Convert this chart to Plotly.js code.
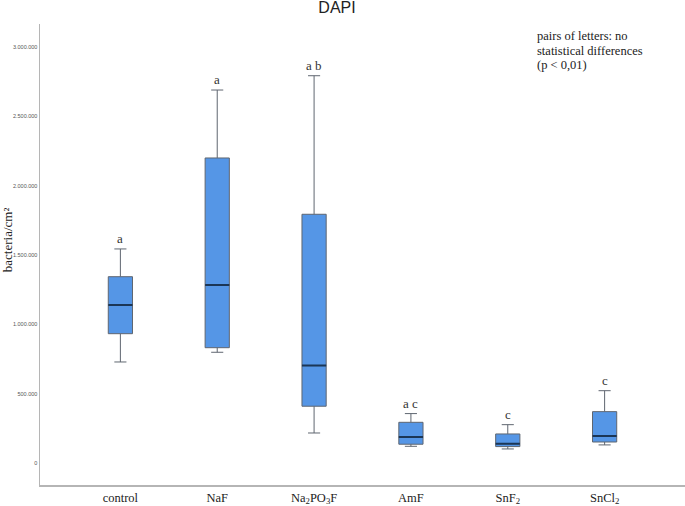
<!DOCTYPE html>
<html><head><meta charset="utf-8">
<script src="https://cdn.plot.ly/plotly-3.0.1.min.js"></script>
<style>html,body{margin:0;padding:0;background:#fff}</style>
</head><body><div id="chart" style="width:685px;height:506px"></div>
<script>
const categories = ['control','NaF','Na<sub>2</sub>PO<sub>3</sub>F','AmF','SnF<sub>2</sub>','SnCl<sub>2</sub>'];
const lowerFence = [728000, 798000, 216000, 120000, 101000, 130000];
const q1Values   = [932000, 831000, 409000, 135000, 118000, 151000];
const medians    = [1139000, 1283000, 702000, 187000, 139000, 195000];
const q3Values   = [1343000, 2199000, 1793000, 293000, 209000, 370000];
const upperFence = [1543000, 2689000, 2792000, 356000, 276000, 521000];
const groupLetters = ['a','a','a b','a c','c','c'];
const yTicks = [0, 500000, 1000000, 1500000, 2000000, 2500000, 3000000];
const noteLines = ['pairs of letters: no', 'statistical differences', '(p &lt; 0,01)'];

const serif = 'Liberation Serif, DejaVu Serif, serif';

const boxTrace = {
  type: 'box', x: categories, q1: q1Values, median: medians, q3: q3Values,
  lowerfence: lowerFence, upperfence: upperFence,
  fillcolor: '#5596e6', line: {color: '#5f6670', width: 1},
  width: 0.25, whiskerwidth: 0.5, hoverinfo: 'skip', showlegend: false
};
const medianTrace = {
  type: 'box', x: categories, q1: medians, median: medians, q3: medians,
  lowerfence: medians, upperfence: medians,
  fillcolor: 'rgba(0,0,0,0)', line: {color: '#1b3656', width: 2},
  width: 0.25, whiskerwidth: 0, hoverinfo: 'skip', showlegend: false
};

const letterAnnotations = categories.map((c, i) => ({
  x: c, y: upperFence[i], xref: 'x', yref: 'y', text: groupLetters[i],
  showarrow: false, yanchor: 'bottom', yshift: 1,
  font: {family: serif, size: 13, color: '#333'}
}));

const noteAnnotations = noteLines.map((t, i) => ({
  xref: 'paper', yref: 'paper', x: 0.767, y: 0.974 - i * 0.0315,
  xanchor: 'left', yanchor: 'middle', showarrow: false, text: t,
  font: {family: serif, size: 12.5, color: '#222'}
}));

const yTitle = {
  xref: 'paper', yref: 'paper', x: 0, xshift: -33, y: 0.531,
  xanchor: 'center', yanchor: 'middle', textangle: -90, showarrow: false,
  text: 'bacteria/cm²', font: {family: serif, size: 13, color: '#222'}
};

const layout = {
  width: 685, height: 506,
  margin: {l: 40, r: 0, t: 24, b: 21},
  paper_bgcolor: '#fff', plot_bgcolor: '#fff',
  separators: ',.',
  boxmode: 'overlay',
  title: {text: 'DAPI', x: 0.492, xanchor: 'center', xref: 'container', yref: 'container',
          y: 0.986, yanchor: 'middle', pad: {t: 0, b: 0},
          font: {family: 'Liberation Sans, Arial, sans-serif', size: 16, color: '#222'}},
  xaxis: {
    type: 'category', range: [-0.83, 5.83],
    showline: true, linecolor: '#b5b5b5', linewidth: 1.5,
    ticks: '', showgrid: false, zeroline: false, ticklabelstandoff: 0,
    tickfont: {family: serif, size: 12.5, color: '#222'}
  },
  yaxis: {
    range: [-159000, 3165000],
    tickvals: yTicks, tickformat: ',d',
    showline: true, linecolor: '#b5b5b5', linewidth: 1.5,
    ticks: '', showgrid: false, zeroline: false,
    tickfont: {family: 'Liberation Sans, Arial, sans-serif', size: 5.5, color: '#555'}
  },
  annotations: letterAnnotations.concat(noteAnnotations, [yTitle])
};

Plotly.newPlot('chart', [boxTrace, medianTrace], layout, {displayModeBar: false, staticPlot: true});
</script></body></html>
